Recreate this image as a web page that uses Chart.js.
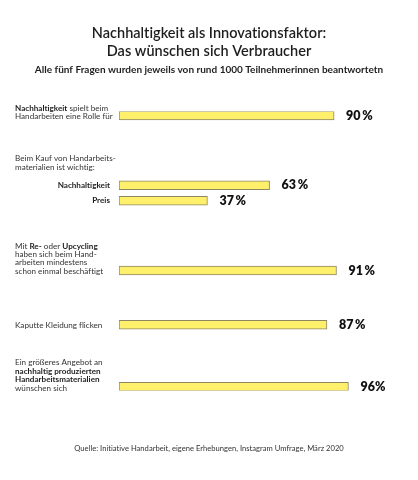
<!DOCTYPE html>
<html>
<head>
<meta charset="utf-8">
<script src="https://cdn.jsdelivr.net/npm/chart.js@4/dist/chart.umd.min.js"></script>
<style>
  html, body { margin: 0; padding: 0; background: #ffffff; }
  #wrap { position: relative; width: 418px; height: 480px; }
</style>
</head>
<body>
<div id="wrap"><canvas id="c"></canvas></div>
<script>
// ---- data ----
const categories = [
  "Nachhaltigkeit spielt beim Handarbeiten eine Rolle für",
  "Beim Kauf wichtig: Nachhaltigkeit",
  "Beim Kauf wichtig: Preis",
  "Mit Re- oder Upcycling beschäftigt",
  "Kaputte Kleidung flicken",
  "Größeres Angebot nachhaltiger Handarbeitsmaterialien"
];
const values = [90, 63, 37, 91, 87, 96];
const valueLabels = ["90\u2009%", "63\u2009%", "37\u2009%", "91\u2009%", "87\u2009%", "96%"];
const titleLines = ["Nachhaltigkeit als Innovationsfaktor:", "Das wünschen sich Verbraucher"];
const subtitleText = "Alle fünf Fragen wurden jeweils von rund 1000 Teilnehmerinnen beantwortetn";
const sourceText = "Quelle: Initiative Handarbeit, eigene Erhebungen, Instagram Umfrage, März 2020";

// question texts: lines of [text, bold] segments
const questionTexts = [
  [[["Nachhaltigkeit", true], [" spielt beim", false]], [["Handarbeiten eine Rolle für", false]]],
  [[["Beim Kauf von Handarbeits-", false]], [["materialien ist wichtig:", false]]],
  [[["Mit ", false], ["Re-", true], [" oder ", false], ["Upcycling", true]], [["haben sich beim Hand-", false]], [["arbeiten mindestens", false]], [["schon einmal beschäftigt", false]]],
  [[["Kaputte Kleidung flicken", false]]],
  [[["Ein größeres Angebot an", false]], [["nachhaltig produzierten", true]], [["Handarbeitsmaterialien", true]], [["wünschen sich", false]]]
];
const subLabels = ["Nachhaltigkeit", "Preis"];

// ---- layout (not data) ----
const SLOTS = 36;
const barSlot = [0, 9, 11, 20, 27, 35];
const questionAnchor = [
  { bar: 0, dy: -7 },
  { bar: 1, dy: -26.5 },
  { bar: 3, dy: -24.5 },
  { bar: 4, dy: 1 },
  { bar: 5, dy: -24 }
];
const LINE_H = 8.4;
const FONT = "Lato, 'Open Sans', sans-serif";

const slotLabels = Array.from({ length: SLOTS }, (_, i) => {
  const k = barSlot.indexOf(i);
  return k >= 0 ? categories[k] : "slot" + i;
});

const textPlugin = {
  id: "textPlugin",
  afterDraw(chart) {
    const ctx = chart.ctx;
    const ys = chart.scales.y;
    const meta = chart.getDatasetMeta(0);
    ctx.save();
    ctx.textBaseline = "middle";
    ctx.fontVariantLigatures = "none";
    if ("letterSpacing" in ctx) ctx.letterSpacing = "0.01px";

    ctx.fillStyle = "#1e1e1e";
    ctx.textAlign = "center";
    ctx.font = "600 14.5px " + FONT;
    ctx.fillText(titleLines[0], 209, 33);
    ctx.fillText(titleLines[1], 209, 51);
    ctx.font = "bold 10px " + FONT;
    ctx.fillText(subtitleText, 209, 70);

    ctx.fillStyle = "#333333";
    ctx.font = "7.6px " + FONT;
    ctx.fillText(sourceText, 209, 449);

    ctx.textAlign = "left";
    questionTexts.forEach((lines, qi) => {
      const anc = questionAnchor[qi];
      const yc = ys.getPixelForValue(barSlot[anc.bar]);
      lines.forEach((segs, li) => {
        let x = 15;
        const y = yc + anc.dy + li * LINE_H;
        segs.forEach(([t, b]) => {
          ctx.font = (b ? "bold " : "") + "8.1px " + FONT;
          ctx.fillStyle = b ? "#1e1e1e" : "#333333";
          ctx.fillText(t, x, y);
          x += ctx.measureText(t).width;
        });
      });
    });

    ctx.textAlign = "right";
    ctx.font = "bold 8.1px " + FONT;
    ctx.fillStyle = "#1e1e1e";
    subLabels.forEach((t, i) => {
      ctx.fillText(t, 110, ys.getPixelForValue(barSlot[1 + i]));
    });

    ctx.textAlign = "left";
    ctx.font = "800 12.5px " + FONT;
    ctx.fillStyle = "#111111";
    meta.data.forEach((bar, i) => {
      ctx.fillText(valueLabels[i], bar.x + 12, bar.y);
    });
    ctx.restore();
  }
};

new Chart(document.getElementById("c"), {
  type: "bar",
  data: {
    labels: slotLabels,
    datasets: [{
      data: values.map((v, i) => ({ x: v, y: categories[i] })),
      backgroundColor: "#fff06b",
      borderColor: "#8e8766",
      borderWidth: 1,
      borderSkipped: false,
      barThickness: 9
    }]
  },
  options: {
    indexAxis: "y",
    responsive: true,
    maintainAspectRatio: false,
    animation: false,
    layout: { padding: { left: 119, right: 60, top: 111.6, bottom: 89.4 } },
    scales: {
      x: { type: "linear", min: 0, max: 100, display: false },
      y: { type: "category", display: false, offset: true }
    },
    plugins: {
      legend: { display: false },
      tooltip: { enabled: false },
      title: { display: false }
    }
  },
  plugins: [textPlugin]
});
</script>
</body>
</html>
